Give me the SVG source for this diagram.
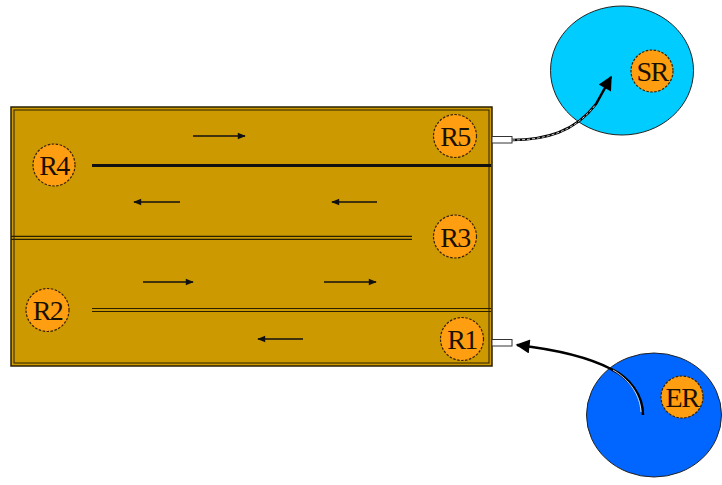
<svg xmlns="http://www.w3.org/2000/svg" width="722" height="485" viewBox="0 0 722 485">
<style>
.lbl{font-family:"Liberation Serif","Times New Roman",serif;font-size:28px;fill:#1a1000;text-anchor:middle;letter-spacing:-1.5px}
.node{fill:#FF9E10;stroke:#3a2200;stroke-width:1.2;stroke-dasharray:2.5 1.5}
.flow{stroke:#111;stroke-width:1.6;fill:none;marker-end:url(#ah)}
.dl{stroke:#2a2000;stroke-width:1.2;fill:none}
</style>
<defs>
<marker id="ah" viewBox="0 0 10 10" refX="9" refY="5" markerWidth="9" markerHeight="8" orient="auto" markerUnits="userSpaceOnUse">
<path d="M0,1 L10,5 L0,9 Z" fill="#111"/>
</marker>
<marker id="big" viewBox="0 0 10 10" refX="9" refY="5" markerWidth="16" markerHeight="14" orient="auto" markerUnits="userSpaceOnUse">
<path d="M0,0 L10,5 L0,10 Z" fill="#000"/>
</marker>
</defs>

<g id="reactor">
<rect x="11" y="107" width="481" height="259" fill="#CC9900" stroke="#2a2000" stroke-width="1.5"/>
<rect x="14" y="110" width="475" height="253" fill="none" stroke="#2a2000" stroke-width="1"/>
<line x1="92" y1="165.5" x2="491" y2="165.5" stroke="#111" stroke-width="3"/>
<line class="dl" x1="11" y1="236.3" x2="412" y2="236.3"/>
<line class="dl" x1="11" y1="239.3" x2="412" y2="239.3"/>
<line class="dl" x1="92" y1="308.5" x2="491" y2="308.5"/>
<line class="dl" x1="92" y1="311.5" x2="491" y2="311.5"/>
</g>

<g id="flows">
<line class="flow" x1="193" y1="136" x2="245" y2="136"/>
<line class="flow" x1="180" y1="202" x2="134" y2="202"/>
<line class="flow" x1="377" y1="202" x2="332" y2="202"/>
<line class="flow" x1="143" y1="282" x2="193" y2="282"/>
<line class="flow" x1="324" y1="282" x2="376" y2="282"/>
<line class="flow" x1="303" y1="339" x2="258" y2="339"/>
</g>

<g id="R4"><circle class="node" cx="54" cy="165" r="21"/><text class="lbl" x="54" y="175">R4</text></g>
<g id="R5"><circle class="node" cx="455" cy="136" r="21.5"/><text class="lbl" x="455" y="146">R5</text></g>
<g id="R3"><circle class="node" cx="455" cy="236.5" r="21.5"/><text class="lbl" x="455" y="246.5">R3</text></g>
<g id="R2"><circle class="node" cx="47.5" cy="310" r="21.5"/><text class="lbl" x="47.5" y="320">R2</text></g>
<g id="R1"><circle class="node" cx="462" cy="339" r="21.5"/><text class="lbl" x="462" y="349">R1</text></g>

<g id="nub5"><rect x="492" y="136.5" width="20" height="6.5" fill="#fff" stroke="#333" stroke-width="1"/></g>
<g id="nub1"><rect x="492" y="339.5" width="20" height="6.5" fill="#fff" stroke="#333" stroke-width="1"/></g>

<g id="SR-zone">
<ellipse cx="622" cy="70.5" rx="71.5" ry="64.5" fill="#00CCFF" stroke="#222" stroke-width="1"/>
<circle class="node" cx="652" cy="71" r="21"/><text class="lbl" x="652" y="81">SR</text>
</g>

<g id="ER-zone">
<ellipse cx="654" cy="415" rx="67.5" ry="62" fill="#0066FF" stroke="#222" stroke-width="1"/>
<circle class="node" cx="682" cy="397" r="21"/><text class="lbl" x="682" y="407">ER</text>
</g>

<g id="connectors">
<path d="M512,140 C545,140 575,132 596,104 L611,77" fill="none" stroke="#000" stroke-width="2.5" marker-end="url(#big)"/>
<path d="M512,140 C545,140 575,132 596,104" fill="none" stroke="#fff" stroke-width="0.8" stroke-dasharray="3 2"/>
<path d="M643,415 C643,395 630,378 611,369 C590,358 560,350 517,345" fill="none" stroke="#000" stroke-width="2.5" marker-end="url(#big)"/>
<path d="M641,412 C640,395 630,380 613,370" fill="none" stroke="#fff" stroke-width="0.8"/>
</g>
</svg>
